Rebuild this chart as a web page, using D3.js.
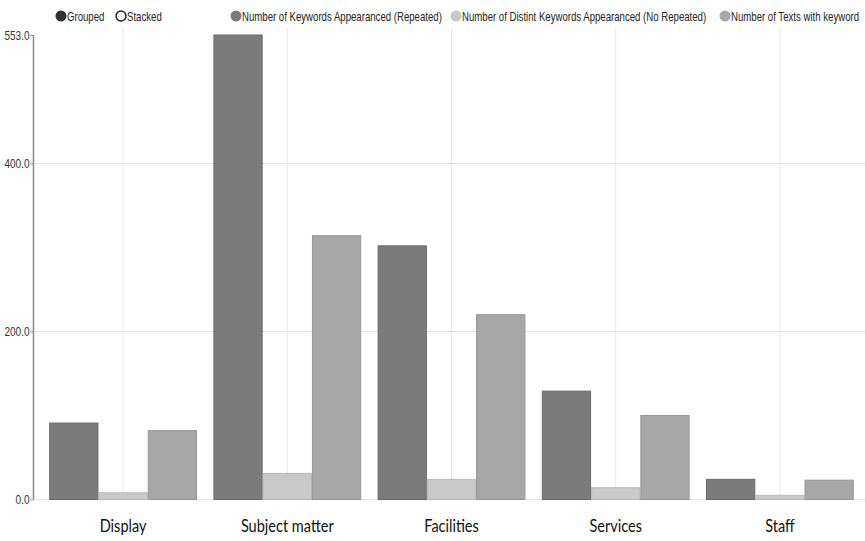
<!DOCTYPE html>
<html><head><meta charset="utf-8">
<script src="https://cdn.jsdelivr.net/npm/d3@7"></script>
<style>body{margin:0;background:#fff}</style>
</head><body>
<svg id="c" width="865" height="541"></svg>
<script>
const categories = ["Display", "Subject matter", "Facilities", "Services", "Staff"];
const seriesNames = ["Number of Keywords Appearanced (Repeated)", "Number of Distint Keywords Appearanced (No Repeated)", "Number of Texts with keyword"];
const repeated = [91, 553, 302, 129, 24];
const distinct = [8, 31, 24, 14, 5];
const texts = [82, 314, 220, 100, 23];
const yTicks = [0, 200, 400, 553];
const colors = ["#7b7b7b", "#c9c9c9", "#a7a7a7"];
const strokes = ["#6a6a6a", "#b8b8b8", "#959595"];

const series = [repeated, distinct, texts];
const svg = d3.select("#c");
const sans = "'Liberation Sans', Arial, sans-serif";

const x0 = d3.scaleBand().domain(categories).range([41, 862]).paddingInner(0.1).paddingOuter(0.05);
const x1 = d3.scaleBand().domain([0,1,2]).range([0, x0.bandwidth()]);
const y = d3.scaleLinear().domain([0, 553]).range([499.5, 35]);

// horizontal grid
svg.append("g").selectAll("line").data(yTicks.filter(d=>d!==553)).join("line")
  .attr("x1", 34).attr("x2", 865).attr("y1", d=>y(d)).attr("y2", d=>y(d))
  .attr("stroke", "#e2e2e2").attr("stroke-width", 1);
// vertical grid at category centers
svg.append("g").selectAll("line").data(categories).join("line")
  .attr("x1", d=>x0(d)+x0.bandwidth()/2).attr("x2", d=>x0(d)+x0.bandwidth()/2)
  .attr("y1", 28).attr("y2", y(0))
  .attr("stroke", "#e6e6e6").attr("stroke-width", 1);

// bars
const g = svg.append("g");
categories.forEach((c, ci) => {
  series.forEach((s, si) => {
    g.append("rect")
      .attr("x", x0(c) + x1(si) + 0.5)
      .attr("y", y(s[ci]))
      .attr("width", x1.bandwidth() - 1)
      .attr("height", y(0) - y(s[ci]))
      .attr("fill", colors[si]).attr("stroke", strokes[si]).attr("stroke-width", 1);
  });
});

// y axis
const yAxis = d3.axisLeft(y).tickValues(yTicks).tickFormat(d3.format(".1f")).tickSize(3);
const ya = svg.append("g").attr("transform", "translate(33.5,0)").call(yAxis);
ya.select(".domain").attr("stroke", "#888").attr("stroke-width", 1.5).attr("d", `M0,${y(553)}V${y(0)}`);
ya.selectAll(".tick line").attr("stroke", "#888");
ya.selectAll("text").attr("font-family", sans).attr("font-size", 12.5).attr("fill", "#333")
  .attr("x", 0).attr("dy", "0.32em")
  .attr("transform", "translate(-4,0) scale(0.8,1)");

// x labels
const xa = d3.axisBottom(x0).tickSize(0);
const xg = svg.append("g").attr("transform", `translate(0,${y(0)})`).call(xa);
xg.select(".domain").remove();
xg.selectAll("text").attr("font-family", "Lato, sans-serif").attr("font-size", 16.5).attr("fill", "#111")
  .attr("dy", 0).attr("y", 0).attr("transform", "translate(0,32) scale(0.88,1)");

// legend
const lg = svg.append("g").attr("font-family", sans).attr("font-size", 12.5).attr("fill", "#222");
function legText(x, t) {
  lg.append("text").attr("transform", `translate(${x},20.5) scale(0.77,1)`).text(t);
}
lg.append("circle").attr("cx", 61).attr("cy", 16).attr("r", 5.5).attr("fill", "#333");
legText(67, "Grouped");
lg.append("circle").attr("cx", 121).attr("cy", 16).attr("r", 5).attr("fill", "#fff").attr("stroke", "#222").attr("stroke-width", 1.5);
legText(127, "Stacked");
const legX = [236, 456, 725];
seriesNames.forEach((n, i) => {
  lg.append("circle").attr("cx", legX[i]).attr("cy", 16).attr("r", 5.5).attr("fill", colors[i]);
  legText(legX[i] + 6, n);
});
</script>
</body></html>
